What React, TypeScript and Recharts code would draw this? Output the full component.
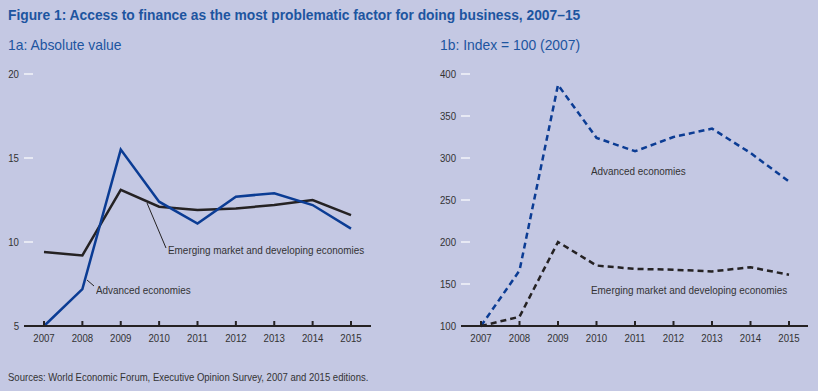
import { LineChart, Line, XAxis, YAxis } from "recharts";

const years = ["2007", "2008", "2009", "2010", "2011", "2012", "2013", "2014", "2015"];
const advancedAbs = [5.0, 7.2, 15.5, 12.4, 11.1, 12.7, 12.9, 12.2, 10.8];
const emergingAbs = [9.4, 9.2, 13.1, 12.1, 11.9, 12.0, 12.2, 12.5, 11.6];
const advancedIdx = [100, 166, 387, 324, 308, 325, 335, 306, 272];
const emergingIdx = [100, 111, 200, 172, 168, 167, 165, 170, 161];
const absTicks = [5, 10, 15, 20];
const idxTicks = [100, 150, 200, 250, 300, 350, 400];

const absData = years.map((y, i) => ({ year: y, adv: advancedAbs[i], emg: emergingAbs[i] }));
const idxData = years.map((y, i) => ({ year: y, adv: advancedIdx[i], emg: emergingIdx[i] }));

const BG = "#c4c8e3";
const BLUE = "#0b3c94";
const DARK = "#252223";
const TITLE = "#1d55a0";
const TEXT = "#333";
const SANS = "'Liberation Sans', Arial, sans-serif";
// condensed look: regular sans squeezed horizontally
const SQ = 0.84;

const XTick = ({ x, y, payload }: any) => (
  <g>
    <line x1={x} x2={x} y1={y - 5} y2={y} stroke={DARK} strokeWidth={2} />
    <text
      transform={`translate(${x},${y + 16}) scale(${SQ},1)`}
      textAnchor="middle"
      fontSize={11.5}
      fontFamily={SANS}
      fill={TEXT}
    >
      {payload.value}
    </text>
  </g>
);

const YTick = ({ x, y, payload, index }: any) => (
  <g>
    {index > 0 && <line x1={x} x2={x + 9} y1={y} y2={y} stroke="#fff" strokeWidth={1.2} />}
    <text
      transform={`translate(${x - 5},${y + 4}) scale(${SQ},1)`}
      textAnchor="end"
      fontSize={11.5}
      fontFamily={SANS}
      fill={TEXT}
    >
      {payload.value}
    </text>
  </g>
);

const note = (left: number, top: number, text: string, size = 11.8) => (
  <div
    style={{
      position: "absolute",
      left,
      top,
      fontFamily: SANS,
      fontSize: size,
      color: TEXT,
      whiteSpace: "nowrap",
      lineHeight: "14px",
      transform: `scaleX(${SQ})`,
      transformOrigin: "0 0",
    }}
  >
    {text}
  </div>
);

export default function App() {
  return (
    <div
      style={{
        position: "absolute",
        left: 0,
        top: 0,
        width: 818,
        height: 391,
        background: BG,
        fontFamily: SANS,
        overflow: "hidden",
      }}
    >
      <div style={{ position: "absolute", left: 8, top: 8, fontSize: 13.8, fontWeight: "bold", color: TITLE, whiteSpace: "nowrap" }}>
        Figure 1: Access to finance as the most problematic factor for doing business, 2007–15
      </div>
      <div style={{ position: "absolute", left: 8, top: 37, fontSize: 13.9, color: TITLE }}>1a: Absolute value</div>
      <div style={{ position: "absolute", left: 440, top: 37, fontSize: 13.9, color: TITLE }}>1b: Index = 100 (2007)</div>

      <div style={{ position: "absolute", left: 0, top: 60 }}>
        <LineChart width={380} height={300} data={absData} margin={{ top: 14, right: 9, bottom: 0, left: 0 }}>
          <XAxis
            dataKey="year"
            padding={{ left: 20, right: 20 }}
            height={34}
            tickSize={0}
            tickMargin={0}
            tickLine={false}
            axisLine={{ stroke: DARK, strokeWidth: 2.2 }}
            tick={<XTick />}
            interval={0}
          />
          <YAxis
            width={24}
            domain={[5, 20]}
            ticks={absTicks}
            tickSize={0}
            tickMargin={0}
            tickLine={false}
            axisLine={false}
            tick={<YTick />}
          />
          <Line dataKey="emg" stroke={DARK} strokeWidth={2.5} dot={false} isAnimationActive={false} />
          <Line dataKey="adv" stroke={BLUE} strokeWidth={2.5} dot={false} isAnimationActive={false} />
        </LineChart>
      </div>

      <div style={{ position: "absolute", left: 410, top: 60 }}>
        <LineChart width={400} height={300} data={idxData} margin={{ top: 14, right: 2, bottom: 0, left: 0 }}>
          <XAxis
            dataKey="year"
            padding={{ left: 20, right: 19 }}
            height={34}
            tickSize={0}
            tickMargin={0}
            tickLine={false}
            axisLine={{ stroke: DARK, strokeWidth: 2.2 }}
            tick={<XTick />}
            interval={0}
          />
          <YAxis
            width={51}
            domain={[100, 400]}
            ticks={idxTicks}
            tickSize={0}
            tickMargin={0}
            tickLine={false}
            axisLine={false}
            tick={<YTick />}
          />
          <Line dataKey="adv" stroke={BLUE} strokeWidth={2.5} strokeDasharray="6 4" dot={false} isAnimationActive={false} />
          <Line dataKey="emg" stroke={DARK} strokeWidth={2.5} strokeDasharray="6 4" dot={false} isAnimationActive={false} />
        </LineChart>
      </div>

      <svg style={{ position: "absolute", left: 0, top: 0 }} width={818} height={391}>
        <line x1={147} y1={203} x2={166} y2={248} stroke={DARK} strokeWidth={1} />
        <line x1={87} y1={280} x2={94} y2={286} stroke={DARK} strokeWidth={1} />
      </svg>

      {note(168, 243, "Emerging market and developing economies")}
      {note(96, 283, "Advanced economies")}
      {note(591, 164, "Advanced economies")}
      {note(591, 283, "Emerging market and developing economies")}

      <div
        style={{
          position: "absolute",
          left: 8,
          top: 371,
          fontSize: 11.35,
          color: TEXT,
          whiteSpace: "nowrap",
          transform: `scaleX(${SQ})`,
          transformOrigin: "0 0",
        }}
      >
        Sources: World Economic Forum, Executive Opinion Survey, 2007 and 2015 editions.
      </div>
    </div>
  );
}
